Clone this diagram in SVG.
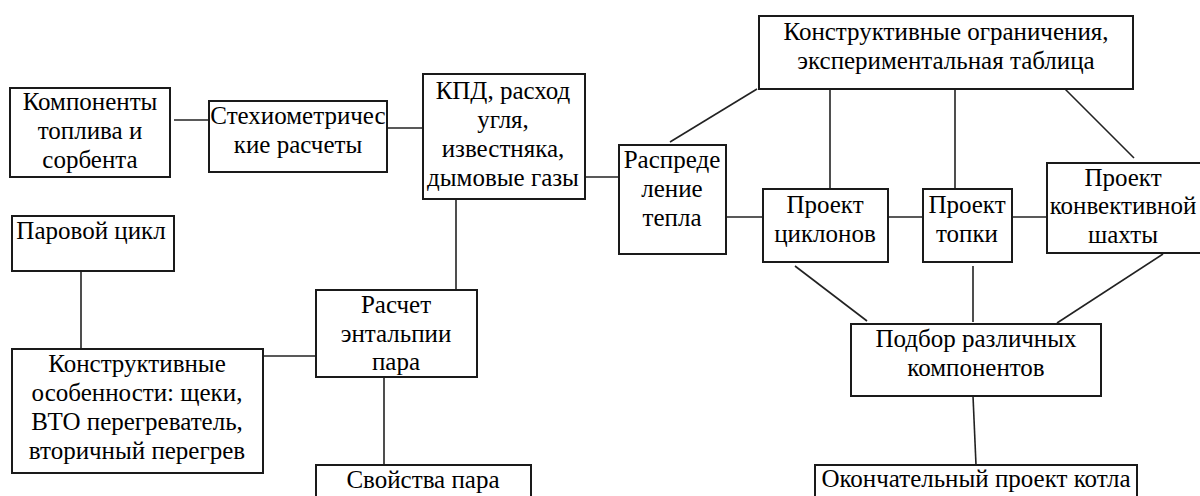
<svg xmlns="http://www.w3.org/2000/svg" width="1200" height="496" viewBox="0 0 1200 496">
<style>
.box{fill:#fff;stroke:#1a1a1a;stroke-width:2}
.t{font-size:25px;fill:#000;text-anchor:middle}
.c line{stroke:#222;stroke-width:1.6}
</style>
<rect width="1200" height="496" fill="#fff"/>
<g id="connectors" class="c">
<line x1="174" y1="120" x2="209" y2="120"/>
<line x1="387" y1="128" x2="423" y2="128"/>
<line x1="585" y1="177" x2="619" y2="177"/>
<line x1="456" y1="199" x2="456" y2="290"/>
<line x1="81" y1="271" x2="81" y2="349"/>
<line x1="260" y1="356" x2="316" y2="356"/>
<line x1="384" y1="377" x2="384" y2="465"/>
<line x1="757" y1="89" x2="670" y2="142"/>
<line x1="830" y1="89" x2="830" y2="197"/>
<line x1="955" y1="89" x2="955" y2="197"/>
<line x1="1063" y1="87" x2="1134" y2="158"/>
<line x1="726" y1="217" x2="763" y2="217"/>
<line x1="888" y1="217" x2="923" y2="217"/>
<line x1="1012" y1="217" x2="1047" y2="217"/>
<line x1="795" y1="266" x2="867" y2="321"/>
<line x1="973" y1="266" x2="973" y2="322"/>
<line x1="1163" y1="254" x2="1057" y2="323"/>
<line x1="973" y1="396" x2="976" y2="465"/>
</g>
<g font-family="'Liberation Serif', 'Times New Roman', 'DejaVu Serif', serif">
<g id="n1"><rect class="box" x="10" y="88" width="160" height="89"/>
<text class="t" x="90" y="110">Компоненты</text><text class="t" x="90" y="139">топлива и</text><text class="t" x="90" y="168">сорбента</text></g>
<g id="n2"><rect class="box" x="209" y="101" width="178" height="71"/>
<text class="t" x="298" y="124">Стехиометричес</text><text class="t" x="298" y="153">кие расчеты</text></g>
<g id="n3"><rect class="box" x="423" y="74" width="162" height="125"/>
<text class="t" x="503" y="99">КПД, расход</text><text class="t" x="503" y="128">угля,</text><text class="t" x="503" y="157">известняка,</text><text class="t" x="503" y="186">дымовые газы</text></g>
<g id="n4"><rect class="box" x="12" y="216" width="162" height="55"/>
<text class="t" x="91" y="239">Паровой цикл</text></g>
<g id="n5"><rect class="box" x="12" y="349" width="251" height="124"/>
<text class="t" x="137" y="372">Конструктивные</text><text class="t" x="137" y="401">особенности: щеки,</text><text class="t" x="137" y="430">ВТО перегреватель,</text><text class="t" x="137" y="459">вторичный перегрев</text></g>
<g id="n6"><rect class="box" x="316" y="290" width="161" height="87"/>
<text class="t" x="396" y="313">Расчет</text><text class="t" x="396" y="342">энтальпии</text><text class="t" x="396" y="370">пара</text></g>
<g id="n7"><rect class="box" x="316" y="465" width="215" height="40"/>
<text class="t" x="423" y="488">Свойства пара</text></g>
<g id="n8"><rect class="box" x="759" y="16" width="374" height="73"/>
<text class="t" x="946" y="40">Конструктивные ограничения,</text><text class="t" x="946" y="69">экспериментальная таблица</text></g>
<g id="n9"><rect class="box" x="619" y="145" width="107" height="109"/>
<text class="t" x="672" y="168">Распреде</text><text class="t" x="672" y="197">ление</text><text class="t" x="672" y="226">тепла</text></g>
<g id="n10"><rect class="box" x="763" y="189" width="125" height="73"/>
<text class="t" x="825" y="213">Проект</text><text class="t" x="825" y="242">циклонов</text></g>
<g id="n11"><rect class="box" x="923" y="189" width="89" height="73"/>
<text class="t" x="967" y="213">Проект</text><text class="t" x="967" y="242">топки</text></g>
<g id="n12"><rect class="box" x="1047" y="163" width="165" height="90"/>
<text class="t" x="1123" y="186">Проект</text><text class="t" x="1123" y="214">конвективной</text><text class="t" x="1123" y="243">шахты</text></g>
<g id="n13"><rect class="box" x="851" y="324" width="250" height="72"/>
<text class="t" x="976" y="347">Подбор различных</text><text class="t" x="976" y="376">компонентов</text></g>
<g id="n14"><rect class="box" x="815" y="465" width="322" height="40"/>
<text class="t" x="976" y="487">Окончательный проект котла</text></g>
</g>
</svg>
